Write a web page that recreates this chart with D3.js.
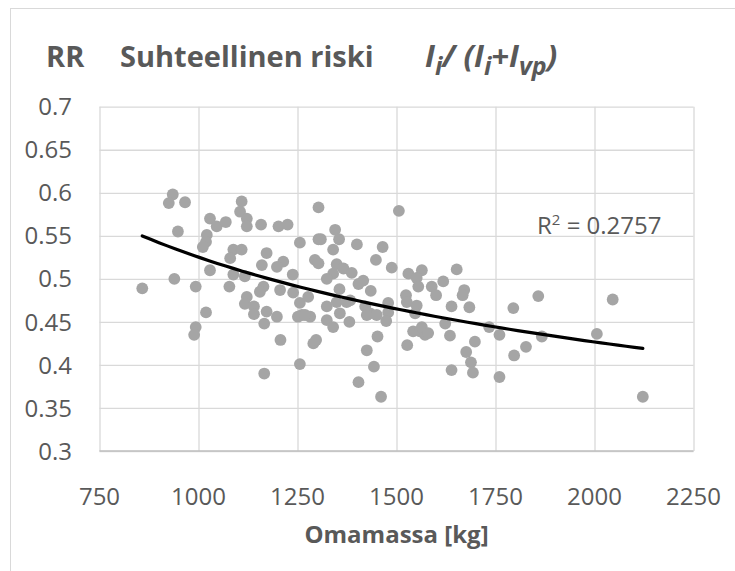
<!DOCTYPE html>
<html>
<head>
<meta charset="utf-8">
<script src="https://cdn.jsdelivr.net/npm/d3@7"></script>
<style>
  body { margin: 0; background: #fff; }
  text { font-family: "Open Sans", "Noto Sans", sans-serif; fill: #595959; }
</style>
</head>
<body>
<script>
// omamassa [kg] and RR
const massKg = [
  935, 925, 966, 948, 858, 939, 993, 1019, 1029, 1046, 1069, 1021, 1019, 1011, 1029,
  1109, 1105, 1122, 1122, 1158, 1202, 1225, 1256, 1303, 1303, 1088, 1109, 1080, 1172, 1160,
  1214, 1198, 1088, 1117, 1238, 1164, 1155, 1206, 1239, 1078, 1294, 1122, 1117, 1140, 1172,
  1198, 1256, 1277, 1261, 1140, 993, 989, 1166, 1207, 1166, 1251, 1282, 1290, 1297, 1256,
  1506, 1345, 1355, 1309, 1340, 1400, 1465, 1448, 1488, 1303, 1349, 1366, 1387, 1340, 1324,
  1416, 1404, 1356, 1435, 1324, 1349, 1383, 1421, 1479, 1269, 1357, 1433, 1479, 1530, 1564,
  1551, 1555, 1589, 1600, 1618, 1652, 1671, 1667, 1524, 1551, 1639, 1684, 1795, 1547, 1374,
  1324, 1340, 1381, 1425, 1450, 1474, 1452, 1425, 1443, 1404, 1461, 1526, 1542, 1559, 1572,
  1564, 1580, 1527, 1623, 1635, 1698, 1676, 1688, 1693, 1639, 1734, 1760, 1797, 1760, 1858,
  2046, 1867, 1827, 2006, 2122
];
const relRisk = [
  0.598, 0.588, 0.589, 0.555, 0.489, 0.500, 0.491, 0.461, 0.570, 0.561, 0.566, 0.551, 0.543, 0.537, 0.510,
  0.590, 0.578, 0.570, 0.561, 0.563, 0.561, 0.563, 0.542, 0.583, 0.546, 0.534, 0.534, 0.524, 0.530, 0.516,
  0.520, 0.514, 0.505, 0.503, 0.505, 0.491, 0.485, 0.487, 0.484, 0.491, 0.522, 0.479, 0.471, 0.468, 0.462,
  0.456, 0.472, 0.479, 0.458, 0.459, 0.444, 0.435, 0.448, 0.429, 0.390, 0.456, 0.456, 0.425, 0.429, 0.401,
  0.579, 0.557, 0.546, 0.546, 0.534, 0.540, 0.537, 0.522, 0.513, 0.518, 0.517, 0.512, 0.507, 0.506, 0.500,
  0.498, 0.494, 0.488, 0.486, 0.468, 0.473, 0.475, 0.468, 0.472, 0.458, 0.460, 0.460, 0.461, 0.506, 0.510,
  0.501, 0.491, 0.491, 0.481, 0.497, 0.511, 0.487, 0.481, 0.481, 0.469, 0.468, 0.467, 0.466, 0.460, 0.473,
  0.452, 0.444, 0.450, 0.458, 0.458, 0.451, 0.433, 0.417, 0.398, 0.380, 0.363, 0.473, 0.439, 0.439, 0.435,
  0.444, 0.437, 0.423, 0.448, 0.434, 0.427, 0.415, 0.403, 0.391, 0.394, 0.444, 0.435, 0.411, 0.386, 0.480,
  0.476, 0.433, 0.421, 0.436, 0.363
];
const xTicks = [750, 1000, 1250, 1500, 1750, 2000, 2250];
const yTicks = [0.3, 0.35, 0.4, 0.45, 0.5, 0.55, 0.6, 0.65, 0.7];
const r2Label = "0.2757";

const width = 735, height = 571;
const plot = { left: 99.5, right: 693.5, top: 106.7, bottom: 451 };

const x = d3.scaleLinear().domain([750, 2250]).range([plot.left, plot.right]);
const y = d3.scaleLinear().domain([0.3, 0.7]).range([plot.bottom, plot.top]);

const svg = d3.select('body').append('svg')
  .attr('width', width)
  .attr('height', height);

svg.append('rect')
  .attr('width', width).attr('height', height)
  .attr('fill', '#fff');

// chart frame (runs off the right and bottom of the shot)
svg.append('rect')
  .attr('x', 10.5).attr('y', 8.5)
  .attr('width', 760).attr('height', 600)
  .attr('fill', 'none')
  .attr('stroke', '#d9d9d9');

// grid
svg.append('g')
  .call(d3.axisLeft(y).tickValues(yTicks).tickSize(-(plot.right - plot.left)).tickFormat(''))
  .attr('transform', `translate(${plot.left},0)`)
  .call(g => g.select('.domain').remove())
  .call(g => g.selectAll('line').attr('stroke', '#d9d9d9').attr('stroke-width', 1.3));

svg.append('g')
  .call(d3.axisBottom(x).tickValues(xTicks).tickSize(-(plot.bottom - plot.top)).tickFormat(''))
  .attr('transform', `translate(0,${plot.bottom})`)
  .call(g => g.select('.domain').remove())
  .call(g => g.selectAll('line').attr('stroke', '#d9d9d9').attr('stroke-width', 1.3));

// bottom axis line
svg.append('line')
  .attr('x1', plot.left).attr('x2', plot.right)
  .attr('y1', plot.bottom).attr('y2', plot.bottom)
  .attr('stroke', '#bfbfbf').attr('stroke-width', 1.3);

// tick labels
svg.append('g').selectAll('text')
  .data(yTicks)
  .join('text')
  .attr('x', 72)
  .attr('y', d => y(d))
  .attr('dy', '0.36em')
  .attr('text-anchor', 'end')
  .style('font-size', '24px')
  .text(d => d);

svg.append('g').selectAll('text')
  .data(xTicks)
  .join('text')
  .attr('x', d => x(d))
  .attr('y', 505)
  .attr('text-anchor', 'middle')
  .style('font-size', '24px')
  .text(d => d);

// points
const pts = massKg.map((m, i) => [m, relRisk[i]]);

svg.append('g').selectAll('circle')
  .data(pts)
  .join('circle')
  .attr('cx', d => x(d[0]))
  .attr('cy', d => y(d[1]))
  .attr('r', 5.9)
  .attr('fill', '#a5a5a5');

// power trendline  y = a * x^b  (least squares in log-log)
const lx = pts.map(d => Math.log(d[0])), ly = pts.map(d => Math.log(d[1]));
const mx = d3.mean(lx), my = d3.mean(ly);
const b = d3.sum(lx, (v, i) => (v - mx) * (ly[i] - my)) / d3.sum(lx, v => (v - mx) ** 2);
const a = Math.exp(my - b * mx);
const [x0, x1] = d3.extent(massKg);
const trend = d3.range(0, 61).map(i => {
  const m = x0 + (x1 - x0) * i / 60;
  return [m, a * Math.pow(m, b)];
});

svg.append('path')
  .datum(trend)
  .attr('fill', 'none')
  .attr('stroke', '#000')
  .attr('stroke-width', 3.2)
  .attr('stroke-linecap', 'round')
  .attr('d', d3.line().x(d => x(d[0])).y(d => y(d[1])));

// R² label
const r2 = svg.append('text')
  .attr('x', 537).attr('y', 234)
  .style('font-size', '24px');
r2.append('tspan').text('R');
r2.append('tspan').attr('dy', -9).style('font-size', '15px').text('2');
r2.append('tspan').attr('dy', 9).text(' = ' + r2Label);

// title
const title = svg.append('g').style('font-weight', 'bold').style('font-size', '29px');
title.append('text').attr('x', 46).attr('y', 67).text('RR');
title.append('text').attr('x', 120).attr('y', 67).text('Suhteellinen riski');
const f = title.append('text').attr('x', 425).attr('y', 67)
  .style('font-style', 'italic').style('font-size', '31px');
f.append('tspan').text('I');
f.append('tspan').attr('dy', 8).style('font-size', '25px').text('i');
f.append('tspan').attr('dy', -8).text('/ (I');
f.append('tspan').attr('dy', 8).style('font-size', '25px').text('i');
f.append('tspan').attr('dy', -8).text('+I');
f.append('tspan').attr('dy', 8).style('font-size', '25px').text('vp');
f.append('tspan').attr('dy', -8).text(')');

// axis title
svg.append('text')
  .attr('x', (plot.left + plot.right) / 2)
  .attr('y', 543)
  .attr('text-anchor', 'middle')
  .style('font-weight', 'bold')
  .style('font-size', '24px')
  .text('Omamassa [kg]');
</script>
</body>
</html>
